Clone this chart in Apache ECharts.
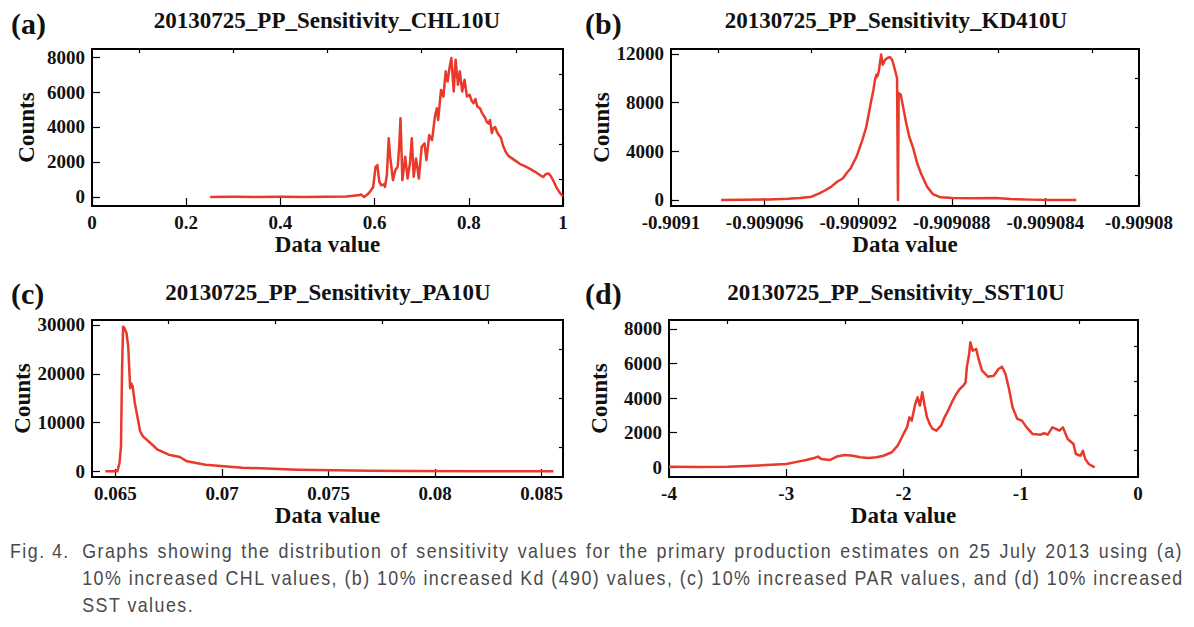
<!DOCTYPE html>
<html>
<head>
<meta charset="utf-8">
<script src="https://cdn.jsdelivr.net/npm/echarts@6/dist/echarts.min.js"></script>
<style>
html,body{margin:0;padding:0;background:#fff;}
#wrap{position:relative;width:1194px;height:627px;overflow:hidden;}
#chart{position:absolute;left:0;top:0;width:1194px;height:627px;}
#cap{position:absolute;left:10px;top:537px;width:1380px;transform:scaleX(0.85);transform-origin:0 0;font-family:"Liberation Sans",Arial,sans-serif;font-size:21px;line-height:27px;color:#4a4a4a;letter-spacing:1.7px;}
#cap .row{display:flex;}
#cap .lab{width:85px;flex:none;}
#cap .just{flex:1;text-align:justify;text-align-last:justify;white-space:nowrap;}
#cap .ind{padding-left:85px;}
#cap .j2{text-align:justify;text-align-last:justify;white-space:nowrap;}
</style>
</head>
<body>
<div id="wrap">
<div id="chart"></div>
<div id="cap">
<div class="row"><span class="lab">Fig. 4.</span><span class="just">Graphs showing the distribution of sensitivity values for the primary production estimates on 25 July 2013 using (a)</span></div>
<div class="ind j2">10% increased CHL values, (b) 10% increased Kd (490) values, (c) 10% increased PAR values, and (d) 10% increased</div>
<div class="ind">SST values.</div>
</div>
</div>
<script>
// ---------- DATA ----------
const panelTags = ['(a)', '(b)', '(c)', '(d)'];
const panelTitles = ['20130725_PP_Sensitivity_CHL10U', '20130725_PP_Sensitivity_KD410U', '20130725_PP_Sensitivity_PA10U', '20130725_PP_Sensitivity_SST10U'];

// (a) CHL
const chlX = [0.251,0.30,0.35,0.40,0.45,0.50,0.54,0.555,0.565,0.571,0.578,0.585,0.59,0.597,0.602,0.606,0.61,0.614,0.62,0.622,0.626,0.63,0.633,0.639,0.644,0.649,0.652,0.655,0.659,0.665,0.67,0.675,0.679,0.683,0.688,0.694,0.70,0.706,0.71,0.716,0.722,0.728,0.732,0.735,0.741,0.746,0.751,0.755,0.759,0.763,0.768,0.772,0.777,0.781,0.786,0.791,0.796,0.802,0.806,0.81,0.814,0.818,0.824,0.828,0.831,0.835,0.838,0.842,0.845,0.849,0.852,0.856,0.86,0.863,0.868,0.873,0.878,0.884,0.894,0.909,0.92,0.93,0.94,0.951,0.958,0.963,0.969,0.974,0.979,0.987,0.994,1.0];
const chlY = [0,10,0,10,0,10,20,60,90,140,0,150,290,570,1720,1820,860,670,720,570,1240,3350,2300,960,1530,1720,2800,4500,960,2300,1050,1910,3350,1150,2200,1050,2870,3060,2100,3540,3250,4590,5070,4400,6120,5740,7180,6600,7370,7940,6030,7850,6410,7180,6030,6700,5740,5840,5500,5360,5600,5170,5050,4800,4680,4500,4300,4200,4400,3650,3930,4000,3700,3560,3400,2910,2600,2350,2160,1880,1750,1600,1450,1250,1140,1300,1340,1200,950,500,210,20];
const chlXTicks = [0,0.2,0.4,0.6,0.8,1];
const chlXLabels = ['0','0.2','0.4','0.6','0.8','1'];
const chlXMinor = [0.1,0.3,0.5,0.7,0.9];
const chlYTicks = [0,2000,4000,6000,8000];
const chlYMinor = [1000,3000,5000,7000];

// (b) KD490
const kdX = [-0.90909786,-0.90909583,-0.909095,-0.90909449,-0.90909399,-0.90909366,-0.9090934,-0.90909315,-0.9090929,-0.90909265,-0.9090925,-0.90909232,-0.90909207,-0.90909182,-0.90909165,-0.90909149,-0.90909135,-0.90909128,-0.90909122,-0.90909118,-0.90909112,-0.90909102,-0.90909095,-0.90909085,-0.90909075,-0.90909065,-0.90909055,-0.90909045,-0.90909034,-0.9090903,-0.90909027,-0.90909018,-0.90909007,-0.90908995,-0.90908982,-0.90908965,-0.90908948,-0.90908932,-0.90908906,-0.90908881,-0.90908848,-0.90908798,-0.90908715,-0.90908614,-0.90908548,-0.90908464,-0.90908381,-0.90908268];
const kdY = [0,50,100,160,270,550,800,1100,1500,1790,2200,2610,3570,4940,6040,7690,9060,9890,10300,10160,10570,11950,11120,11530,11670,11750,11530,10850,10020,0,8790,8650,7550,6320,5220,4260,3020,2200,1100,490,220,165,140,165,80,30,0,0];
const kdXTicks = [-0.9091,-0.909096,-0.909092,-0.909088,-0.909084,-0.90908];
const kdXLabels = ['-0.9091','-0.909096','-0.909092','-0.909088','-0.909084','-0.90908'];
const kdXMinor = [-0.909098,-0.909094,-0.90909,-0.909086,-0.909082];
const kdYTicks = [0,4000,8000,12000];
const kdYMinor = [2000,6000,10000];

// (c) PAR
const parX = [0.06453,0.06509,0.06519,0.06526,0.06531,0.06536,0.06543,0.06552,0.0656,0.06569,0.06574,0.06581,0.06591,0.06603,0.06616,0.06629,0.06664,0.06698,0.0675,0.06802,0.06836,0.06922,0.07009,0.07095,0.07181,0.07267,0.07353,0.07526,0.07698,0.07871,0.08216,0.08555];
const parY = [0,0,1700,5100,20800,29660,29300,28300,25570,17050,18070,17390,13980,11250,8180,7160,5800,4430,3410,2930,2050,1360,1020,750,610,480,340,200,140,70,30,0];
const parXTicks = [0.065,0.07,0.075,0.08,0.085];
const parXLabels = ['0.065','0.07','0.075','0.08','0.085'];
const parXMinor = [0.0675,0.0725,0.0775,0.0825];
const parYTicks = [0,10000,20000,30000];
const parYMinor = [5000,15000,25000];

// (d) SST
const sstX = [-4,-3.75,-3.5,-3.33,-3.17,-3.0,-2.9,-2.83,-2.77,-2.73,-2.7,-2.63,-2.57,-2.5,-2.43,-2.37,-2.3,-2.23,-2.17,-2.1,-2.05,-2.0,-1.97,-1.95,-1.93,-1.9,-1.88,-1.86,-1.84,-1.82,-1.8,-1.77,-1.75,-1.72,-1.68,-1.65,-1.62,-1.58,-1.55,-1.52,-1.49,-1.47,-1.46,-1.44,-1.43,-1.41,-1.38,-1.36,-1.33,-1.28,-1.23,-1.19,-1.16,-1.13,-1.1,-1.07,-1.03,-0.99,-0.95,-0.9,-0.83,-0.8,-0.77,-0.73,-0.7,-0.67,-0.64,-0.6,-0.55,-0.53,-0.49,-0.47,-0.45,-0.42,-0.37];
const sstY = [30,20,30,80,130,190,330,420,520,620,480,420,620,710,670,580,540,580,670,870,1250,1930,2310,2890,2700,3660,4050,3570,4340,3570,2890,2410,2220,2120,2410,2890,3280,3860,4240,4530,4720,4920,5780,6550,7230,6750,6840,6270,5590,5240,5300,5690,5820,5400,4530,3470,2800,2700,2310,1930,1890,1970,1890,2310,2220,2120,2310,1640,1350,770,670,960,480,190,0];
const sstXTicks = [-4,-3,-2,-1,0];
const sstXLabels = ['-4','-3','-2','-1','0'];
const sstXMinor = [-3.5,-2.5,-1.5,-0.5];
const sstYTicks = [0,2000,4000,6000,8000];
const sstYMinor = [1000,3000,5000,7000];

// ---------- LAYOUT ----------
const SERIF = 'Liberation Serif';
const RED = '#e8392a';
const INK = '#111';

const panels = [
  {x: chlX, y: chlY, xt: chlXTicks, xl: chlXLabels, xm: chlXMinor, yt: chlYTicks, ym: chlYMinor,
   xMin: 0, xMax: 1, yMin: -520, yMax: 8460, grid: {left: 92, top: 49, width: 471, height: 157},
   yGap: 54, tagX: 11, tagY: 23, titleX: 327, titleY: 20},
  {x: kdX, y: kdY, xt: kdXTicks, xl: kdXLabels, xm: kdXMinor, yt: kdYTicks, ym: kdYMinor,
   xMin: -0.9091, xMax: -0.90908, yMin: -494, yMax: 12410, grid: {left: 671, top: 49, width: 468, height: 157},
   yGap: 58, tagX: 585, tagY: 23, titleX: 896, titleY: 20},
  {x: parX, y: parY, xt: parXTicks, xl: parXLabels, xm: parXMinor, yt: parYTicks, ym: parYMinor,
   xMin: 0.0639, xMax: 0.086, yMin: -1160, yMax: 31020, grid: {left: 92, top: 320, width: 471, height: 157},
   yGap: 54, tagX: 11, tagY: 293, titleX: 328, titleY: 292},
  {x: sstX, y: sstY, xt: sstXTicks, xl: sstXLabels, xm: sstXMinor, yt: sstYTicks, ym: sstYMinor,
   xMin: -4, xMax: 0, yMin: -560, yMax: 8520, grid: {left: 669, top: 320, width: 469, height: 157},
   yGap: 58, tagX: 585, tagY: 293, titleX: 896, titleY: 292}
];

const tickRich = {t: {fontFamily: SERIF, fontWeight: 'bold', fontSize: 19, color: INK}};
const nameStyle = {fontFamily: SERIF, fontWeight: 'bold', fontSize: 23, color: INK};

const grids = [], xAxes = [], yAxes = [], series = [], graphics = [];

panels.forEach((p, i) => {
  grids.push(Object.assign({show: true, borderColor: '#000', borderWidth: 2, backgroundColor: 'transparent', containLabel: false}, p.grid));
  const fmtX = (v) => {
    let best = 0, bd = Infinity;
    p.xt.forEach((t, k) => { const d = Math.abs(t - v); if (d < bd) { bd = d; best = k; } });
    return '{t|' + p.xl[best] + '}';
  };
  xAxes.push({
    type: 'value', gridIndex: i, min: p.xMin, max: p.xMax, scale: true,
    axisLine: {show: true, onZero: false, lineStyle: {color: '#000', width: 2}},
    axisTick: {show: true, inside: true, length: 8, lineStyle: {color: '#000', width: 1.2}, customValues: p.xt},
    axisLabel: {customValues: p.xt, formatter: fmtX, margin: 7, showMinLabel: true, showMaxLabel: true,
      fontFamily: SERIF, fontWeight: 'bold', fontSize: 19, color: INK, rich: tickRich},
    splitLine: {show: false},
    name: 'Data value', nameLocation: 'middle', nameGap: 21, nameTextStyle: nameStyle
  });
  xAxes.push({
    type: 'value', gridIndex: i, min: p.xMin, max: p.xMax, scale: true,
    axisLine: {show: false, onZero: false},
    axisTick: {show: true, inside: true, length: 4, lineStyle: {color: '#000', width: 1.2}, customValues: p.xm},
    axisLabel: {show: false}, splitLine: {show: false}
  });
  yAxes.push({
    type: 'value', gridIndex: i, min: p.yMin, max: p.yMax, scale: true,
    axisLine: {show: true, onZero: false, lineStyle: {color: '#000', width: 2}},
    axisTick: {show: true, inside: true, length: 8, lineStyle: {color: '#000', width: 1.2}, customValues: p.yt},
    axisLabel: {customValues: p.yt, formatter: (v) => '{t|' + String(Math.round(v)) + '}', margin: 7,
      fontFamily: SERIF, fontWeight: 'bold', fontSize: 19, color: INK, rich: tickRich},
    splitLine: {show: false},
    name: 'Counts', nameLocation: 'middle', nameGap: p.yGap, nameTextStyle: nameStyle
  });
  yAxes.push({
    type: 'value', gridIndex: i, min: p.yMin, max: p.yMax, scale: true,
    axisLine: {show: false, onZero: false},
    axisTick: {show: true, inside: true, length: 4, lineStyle: {color: '#000', width: 1.2}, customValues: p.ym},
    axisLabel: {show: false}, splitLine: {show: false}
  });
  series.push({
    type: 'line', xAxisIndex: 2 * i, yAxisIndex: 2 * i,
    data: p.x.map((xv, k) => [xv, p.y[k]]),
    showSymbol: false, symbol: 'none', smooth: false, silent: true, animation: false,
    lineStyle: {color: RED, width: 2.5, join: 'round'}
  });
  graphics.push({
    type: 'text', x: p.tagX, y: p.tagY,
    style: {text: panelTags[i], align: 'left', verticalAlign: 'middle', fontFamily: SERIF, fontWeight: 'bold', fontSize: 30, fill: INK}
  });
  graphics.push({
    type: 'text', x: p.titleX, y: p.titleY,
    style: {text: panelTitles[i], align: 'center', verticalAlign: 'middle', fontFamily: SERIF, fontWeight: 'bold', fontSize: 23, fill: INK}
  });
});

const chart = echarts.init(document.getElementById('chart'), null, {renderer: 'svg', width: 1194, height: 627});
chart.setOption({
  animation: false,
  backgroundColor: '#fff',
  textStyle: {fontFamily: SERIF},
  grid: grids,
  xAxis: xAxes,
  yAxis: yAxes,
  series: series,
  graphic: graphics
});
</script>
</body>
</html>
